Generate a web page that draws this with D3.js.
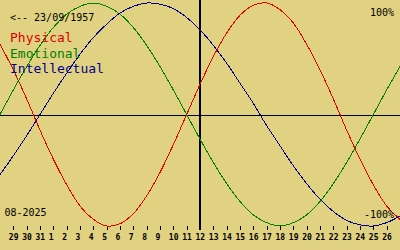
<!DOCTYPE html>
<html>
<head>
<meta charset="utf-8">
<script src="https://cdn.jsdelivr.net/npm/d3@7"></script>
<style>
  html, body { margin: 0; padding: 0; background: #e0d281; }
  svg { display: block; }
  text { font-family: "DejaVu Sans Mono", monospace; }
</style>
</head>
<body>
<svg></svg>
<script>
// days shown, Jul 28 .. Aug 27 2025 (first and last only partly visible)
var days = [28, 29, 30, 31, 1, 2, 3, 4, 5, 6, 7, 8, 9, 10, 11, 12, 13, 14, 15, 16,
            17, 18, 19, 20, 21, 22, 23, 24, 25, 26, 27];
var physical = [0.63, 0.40, 0.14, -0.14, -0.40, -0.63, -0.82, -0.94, -1.00, -0.98, -0.89,
                -0.73, -0.52, -0.27, 0, 0.27, 0.52, 0.73, 0.89, 0.98, 1.00, 0.94, 0.82,
                0.63, 0.40, 0.14, -0.14, -0.40, -0.63, -0.82, -0.94];
var emotional = [0, 0.22, 0.43, 0.62, 0.78, 0.90, 0.97, 1.00, 0.97, 0.90, 0.78, 0.62,
                 0.43, 0.22, 0, -0.22, -0.43, -0.62, -0.78, -0.90, -0.97, -1.00, -0.97,
                 -0.90, -0.78, -0.62, -0.43, -0.22, 0, 0.22, 0.43];
var intellectual = [-0.54, -0.37, -0.19, 0, 0.19, 0.37, 0.54, 0.69, 0.81, 0.91, 0.97,
                    1.00, 0.99, 0.95, 0.87, 0.76, 0.62, 0.46, 0.28, 0.10, -0.10, -0.28,
                    -0.46, -0.62, -0.76, -0.87, -0.95, -0.99, -1.00, -0.97, -0.91];
var todayIndex = 15;
var birthLabel = "<-- 23/09/1957";
var monthLabel = "08-2025";
var seriesNames = ["Physical", "Emotional", "Intellectual"];
var seriesColors = ["#e00000", "#008000", "#000090"];

var svgWidth = 400, svgHeight = 250;

var svg = d3.select("svg")
    .attr("width", svgWidth)
    .attr("height", svgHeight);

svg.append("rect")
    .attr("width", svgWidth)
    .attr("height", svgHeight)
    .attr("fill", "#e0d281");

var x = d3.scaleLinear().domain([0, days.length - 1]).range([0, svgWidth]);
var y = d3.scaleLinear().domain([-1, 1]).range([226, 3]);

// zero line and today line
svg.append("line")
    .attr("x1", 0).attr("x2", svgWidth)
    .attr("y1", Math.round(y(0)) + 0.5).attr("y2", Math.round(y(0)) + 0.5)
    .attr("stroke", "#000").attr("stroke-width", 1);

svg.append("line")
    .attr("x1", x(todayIndex)).attr("x2", x(todayIndex))
    .attr("y1", 0).attr("y2", 230)
    .attr("stroke", "#000").attr("stroke-width", 2);

// day ticks
var tickIdx = d3.range(1, days.length - 1);
var axis = d3.axisBottom(x)
    .tickValues(tickIdx)
    .tickSize(4)
    .tickFormat(function(i){ return days[i]; });

var g = svg.append("g")
    .attr("transform", "translate(0,226)")
    .call(axis);
g.select(".domain").remove();
g.selectAll(".tick line").attr("stroke", "#000").attr("shape-rendering", "crispEdges");
g.selectAll(".tick text")
    .attr("text-anchor", "start")
    .attr("x", -5)
    .attr("y", 14)
    .attr("dy", null)
    .attr("fill", "#000")
    .style("font-family", "'DejaVu Sans Mono', monospace")
    .style("font-size", "8px")
    .style("font-weight", "bold");

// curves
var line = d3.line()
    .x(function(d, i){ return x(i); })
    .y(function(d){ return y(d); })
    .curve(d3.curveCatmullRom);

[physical, emotional, intellectual].forEach(function(s, i){
    svg.append("path")
        .attr("d", line(s))
        .attr("fill", "none")
        .attr("stroke", seriesColors[i])
        .attr("stroke-width", 1)
        .attr("shape-rendering", "crispEdges");
});

// texts
svg.append("text").attr("x", 10).attr("y", 20.5)
    .style("font-size", "10px").attr("fill", "#000").text(birthLabel);

svg.selectAll(".legend")
    .data(seriesNames)
    .enter()
    .append("text")
    .attr("x", 10)
    .attr("y", function(d, i){ return 42 + i * 15.5; })
    .style("font-size", "13px")
    .attr("fill", function(d, i){ return seriesColors[i]; })
    .text(function(d){ return d; });

svg.append("text").attr("x", 394).attr("y", 16)
    .attr("text-anchor", "end")
    .style("font-size", "10px").attr("fill", "#000").text("100%");

svg.append("text").attr("x", 394).attr("y", 218)
    .attr("text-anchor", "end")
    .style("font-size", "10px").attr("fill", "#000").text("-100%");

svg.append("text").attr("x", 4.5).attr("y", 216)
    .style("font-size", "10px").attr("fill", "#000").text(monthLabel);
</script>
</body>
</html>
